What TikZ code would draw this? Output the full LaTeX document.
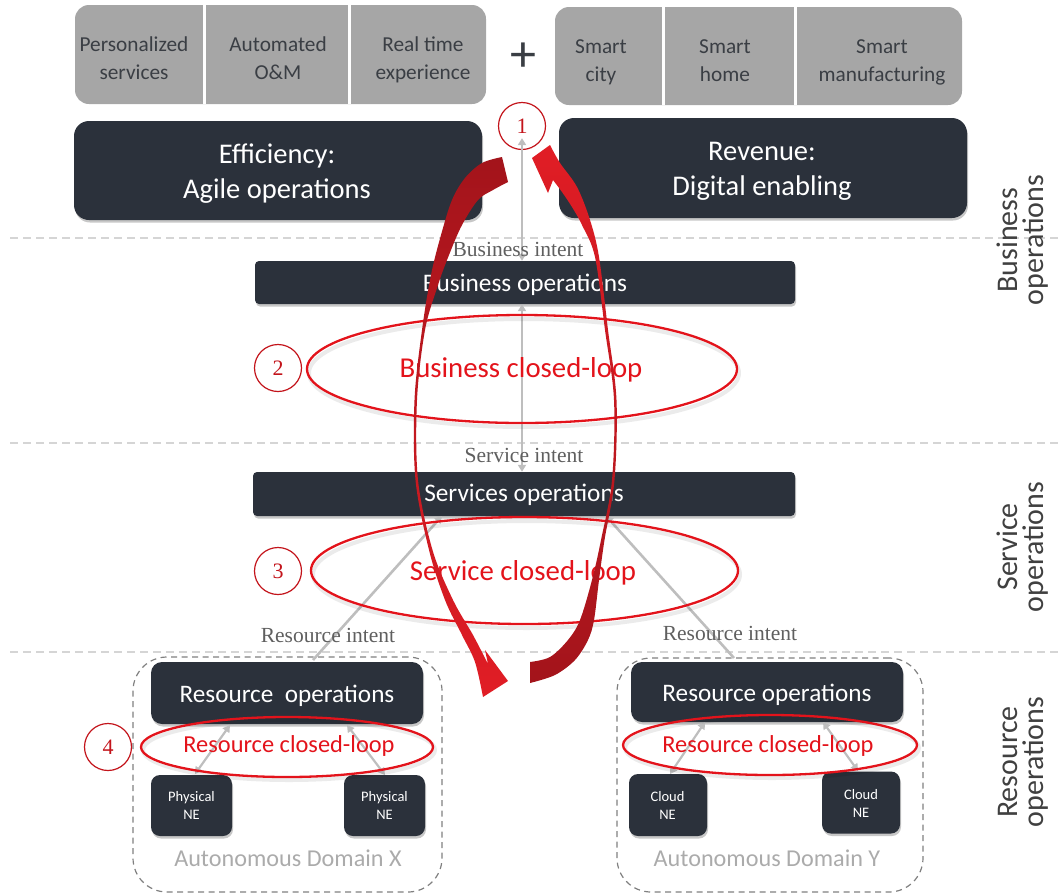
\documentclass[tikz,border=0pt]{standalone}
\usepackage{fontspec}
\setmainfont{Carlito}
\newfontfamily\seriffont{Liberation Serif}
\usetikzlibrary{arrows.meta,shadows}
\definecolor{boxdark}{HTML}{2B313B}
\definecolor{boxlight}{HTML}{A6A6A6}
\definecolor{boxtext}{HTML}{3A3E44}
\definecolor{loopred}{HTML}{E3131B}
\definecolor{numred}{HTML}{C3141B}
\definecolor{arrdark}{HTML}{A3141B}
\definecolor{arrbright}{HTML}{E11D25}
\definecolor{garrowc}{HTML}{BEBEBE}
\definecolor{sepgray}{HTML}{D5D5D5}
\definecolor{sidetext}{HTML}{404040}
\definecolor{domtext}{HTML}{ABABAB}
\definecolor{intenttext}{HTML}{5F5F5F}
\begin{document}
\begin{tikzpicture}[x=1pt,y=-1pt,
  fs/.style={font=\fontsize{#1}{#1}\selectfont},
  ln/.style={anchor=base, inner sep=0pt},
  lightb/.style={fill=boxlight, draw=none, inner sep=0pt, rounded corners=14pt},
  darkb/.style={fill=boxdark, draw=none, inner sep=0pt, rounded corners=#1,
                drop shadow={shadow xshift=1pt, shadow yshift=-2.5pt, opacity=0.22, fill=black}},
  darkb/.default=5pt,
  toptext/.style={ln, text=boxtext, fs=21.3},
  wt/.style={ln, text=white},
  sepline/.style={draw=sepgray, line width=2pt, dash pattern=on 8pt off 5pt},
  garr/.style={draw=garrowc, line width=2.6pt, arrows={-Triangle[length=7pt,width=8pt]}},
  garr2/.style={draw=garrowc, line width=2.6pt, arrows={Triangle[length=7pt,width=8pt]-Triangle[length=7pt,width=8pt]}},
  cloop/.style={draw=loopred, line width=2.3pt},
  loopshadow/.style={draw=black, opacity=0.08, line width=4pt},
  looptext/.style={ln, text=loopred},
  numc/.style={circle, draw=numred, line width=1.2pt, minimum size=47pt, inner sep=0pt, text=numred, font=\seriffont\fontsize{22}{24}\selectfont},
  intentlbl/.style={ln, text=intenttext, font=\seriffont\fontsize{21.5}{24}\selectfont},
  dombox/.style={draw=gray, line width=1.2pt, dash pattern=on 6pt off 4.5pt, rounded corners=34pt, inner sep=0pt},
  sidelbl/.style={ln, text=sidetext, rotate=90, fs=30},
  netext/.style={wt, fs=14.5},
  domlbl/.style={ln, text=domtext, fs=24.2}
]
\useasboundingbox (0,0) rectangle (1058,895);

% separators
\draw[sepline] (10,238) -- (1058,238);
\draw[sepline] (10,443) -- (1058,443);
\draw[sepline] (10,652) -- (1058,652);

% top gray boxes
\node[lightb, minimum width=411pt, minimum height=99pt] (gl) at (280.5,54.5) {};
\draw[white, line width=3pt] (204,5) -- (204,104);
\draw[white, line width=3pt] (349,5) -- (349,104);
\node[toptext] (t1a) at (134,51.5) {Personalized};
\node[toptext] (t1b) at (134,79.5) {services};
\node[toptext] (t2a) at (278,51.5) {Automated};
\node[toptext] (t2b) at (278,79.5) {O\&M};
\node[toptext] (t3a) at (423,51.5) {Real time};
\node[toptext] (t3b) at (423,79.5) {experience};
\node[text=boxtext, fs=52] (plus) at (523,57) {+};
\node[lightb, minimum width=407pt, minimum height=98pt] (gr) at (758.5,56) {};
\draw[white, line width=3pt] (663,7) -- (663,105);
\draw[white, line width=3pt] (795,7) -- (795,105);
\node[toptext] (t4a) at (601,53) {Smart};
\node[toptext] (t4b) at (601,81.5) {city};
\node[toptext] (t5a) at (725,53) {Smart};
\node[toptext] (t5b) at (725,81.5) {home};
\node[toptext] (t6a) at (882,53) {Smart};
\node[toptext] (t6b) at (882,81.5) {manufacturing};

% value boxes
\node[darkb=15pt, minimum width=408pt, minimum height=99pt] (eff) at (278,170.5) {};
\node[wt, fs=28.5] (effa) at (277,163) {Efficiency:};
\node[wt, fs=28.5] (effb) at (277,198.5) {Agile operations};
\node[darkb=15pt, minimum width=408pt, minimum height=100pt] (rev) at (763,168) {};
\node[wt, fs=28.5] (reva) at (762,160) {Revenue:};
\node[wt, fs=28.5] (revb) at (762,195) {Digital enabling};

% circles
\node[numc] (c1) at (522,126) {1};
\node[numc] (c2) at (278,368) {2};
\node[numc] (c3) at (278,571) {3};
\node[numc] (c4) at (108,747) {4};

% operation bars
\node[darkb=4pt, minimum width=540pt, minimum height=43pt] (bizops) at (525,282.5) {};
\node[darkb=4pt, minimum width=542pt, minimum height=44pt] (svcops) at (524,494) {};

% gray arrows (vertical)
\draw[garr2] ([yshift=12pt]c1.south) -- (c1.south |- bizops.north);
\draw[garr2] (bizops.south -| c1) -- (svcops.north -| c1);
\node[intentlbl] (bint) at (518,256) {Business intent};
\node[intentlbl] (sint) at (524,462.5) {Service intent};
\node[wt, fs=25.3] (bizopsT) at (525,291.5) {Business operations};
\node[wt, fs=25.3] (svcopsT) at (524,501.5) {Services operations};

% resource domains
\node[dombox, minimum width=309pt, minimum height=235pt] (domL) at (287.5,774.5) {};
\node[dombox, minimum width=306pt, minimum height=234pt] (domR) at (770,775) {};
\node[darkb=11pt, minimum width=272pt, minimum height=62pt] (resL) at (287,693) {};
\node[darkb=11pt, minimum width=272pt, minimum height=60pt] (resR) at (767,692) {};
\node[wt, fs=25.2] (resLT) at (287,702) {Resource\hspace{0.45em}operations};
\node[wt, fs=25.2] (resRT) at (767,701.5) {Resource operations};
\node[darkb=9pt, minimum width=81pt, minimum height=61pt] (ne1) at (191.5,805.5) {};
\node[darkb=9pt, minimum width=81pt, minimum height=61pt] (ne2) at (384.5,805.5) {};
\node[darkb=9pt, minimum width=78pt, minimum height=62pt] (ne3) at (668,805) {};
\node[darkb=9pt, minimum width=78pt, minimum height=62pt] (ne4) at (861,802.5) {};
\node[netext] (ne1a) at (191.5,801) {Physical};
\node[netext] (ne1b) at (191.5,819.3) {NE};
\node[netext] (ne2a) at (384.5,801) {Physical};
\node[netext] (ne2b) at (384.5,819.3) {NE};
\node[netext] (ne3a) at (667.5,801) {Cloud};
\node[netext] (ne3b) at (667.5,819.3) {NE};
\node[netext] (ne4a) at (861,799.3) {Cloud};
\node[netext] (ne4b) at (861,817.7) {NE};
\node[domlbl] (dxl) at (288,866) {Autonomous Domain X};
\node[domlbl] (dyl) at (767,866) {Autonomous Domain Y};

% diagonal gray arrows
\coordinate (riL) at (313,660);
\coordinate (svL) at (442,516);
\coordinate (riR) at (734,658);
\coordinate (svR) at (606,516);
\draw[garr] (riL) -- (svL);
\draw[garr] (riR) -- (svR);
\node[intentlbl] (rintL) at (328,642.5) {Resource intent};
\node[intentlbl] (rintR) at (730,640) {Resource intent};

\coordinate (aL1) at (230,725); \coordinate (bL1) at (195,774);
\coordinate (aL2) at (347,725); \coordinate (bL2) at (385,775);
\coordinate (aR1) at (705,722); \coordinate (bR1) at (670,774);
\coordinate (aR2) at (823,722); \coordinate (bR2) at (858,771);
\draw[garr2, line width=2.2pt] (aL1) -- (bL1);
\draw[garr2, line width=2.2pt] (aL2) -- (bL2);
\draw[garr2, line width=2.2pt] (aR1) -- (bR1);
\draw[garr2, line width=2.2pt] (aR2) -- (bR2);

% closed loops (soft shadow, then red ring)
\draw[loopshadow] (524,373) ellipse [x radius=215, y radius=54];
\draw[loopshadow] (526.5,574.5) ellipse [x radius=213.5, y radius=53.5];
\draw[loopshadow] (289,750) ellipse [x radius=146, y radius=30];
\draw[loopshadow] (772,748) ellipse [x radius=147, y radius=30];
\draw[cloop] (522,369) ellipse [x radius=215, y radius=54];
\draw[cloop] (524.5,570.5) ellipse [x radius=213.5, y radius=53.5];
\draw[cloop] (287,747) ellipse [x radius=146, y radius=30];
\draw[cloop] (770,745) ellipse [x radius=147, y radius=30];
\node[looptext, fs=28.8] (bcl) at (521,377.5) {Business closed-loop};
\node[looptext, fs=28.8] (scl) at (523,580) {Service closed-loop};
\node[looptext, fs=24.4] (rcl1) at (289,752.3) {Resource closed-loop};
\node[looptext, fs=24.4] (rcl2) at (768,752.3) {Resource closed-loop};

% big red arrows
\shade[top color=arrdark, bottom color=arrbright]
  plot[smooth, tension=0.55] coordinates {(502,157) (482,163) (465,178) (452,200) (441,235) (431,275) (422,330) (414.5,400) (415.5,480) (429,550) (445,600) (462,635) (475,662) (483,697)}
  -- (508,681) -- (485,650) -- (488,664)
  -- plot[smooth, tension=0.55] coordinates {(488,664) (473,635) (453,600) (432.5,550) (418,480) (417,400) (425,330) (438,285) (449,255) (462,225) (478,200) (493,190) (508,182)}
  -- cycle;
\shade[top color=arrbright, bottom color=arrdark]
  plot[smooth, tension=0.55] coordinates {(530,683) (555,675) (575,660) (588,640) (594,620) (599,580) (604.5,540) (614.5,480) (616.5,400) (608,330) (599,257) (590,220) (577,187) (560,163) (550,145)}
  -- (532,158) -- (548,193) -- (553,180)
  -- plot[smooth, tension=0.55] coordinates {(553,180) (562,192) (572,207) (582,225) (595,257) (605,330) (614,400) (612,480) (601,540) (592,580) (580,620) (568,640) (550,657) (530,662)}
  -- cycle;

% side labels
\node[sidelbl] (sb1) at (1017,240) {Business};
\node[sidelbl] (sb2) at (1043,240) {operations};
\node[sidelbl] (ss1) at (1017,547) {Service};
\node[sidelbl] (ss2) at (1043,547) {operations};
\node[sidelbl] (sr1) at (1017,762) {Resource};
\node[sidelbl] (sr2) at (1043,762) {operations};
\end{tikzpicture}
\end{document}
